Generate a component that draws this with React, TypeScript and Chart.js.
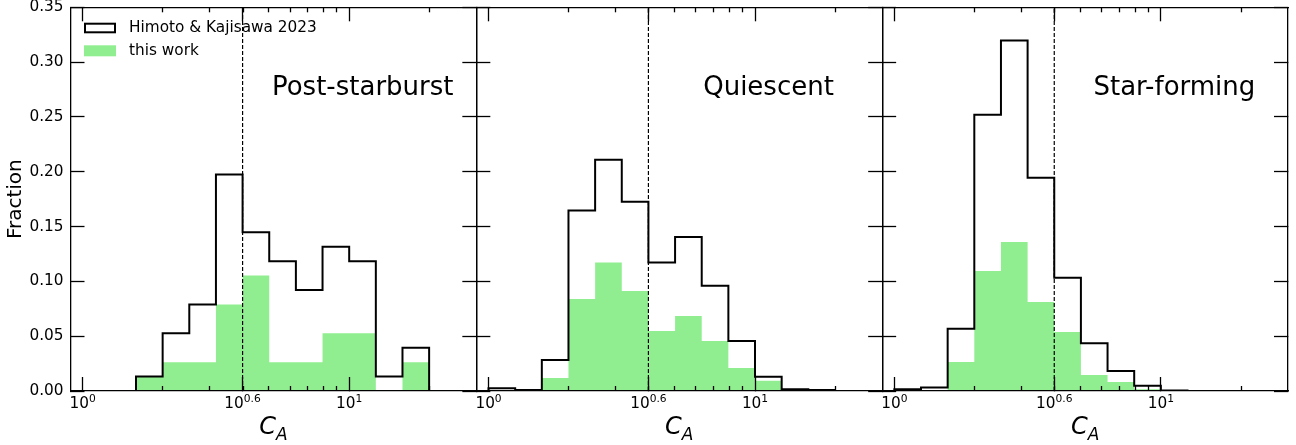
import React, { useEffect, useRef } from 'react';
import { Chart, registerables } from 'chart.js';

Chart.register(...registerables);

// ---------------- data ----------------
// histogram bin edges, in log10(C_A)
const binEdgeLog10 = [0, 0.1, 0.2, 0.3, 0.4, 0.5, 0.6, 0.7, 0.8, 0.9, 1.0, 1.1, 1.2, 1.3];

const panelNames = ['Post-starburst', 'Quiescent', 'Star-forming'];
const seriesLabels = ['Himoto & Kajisawa 2023', 'this work'];

// Himoto & Kajisawa 2023 (black step outline), fraction per bin
const himotoPostStarburst = [0, 0, 0.0132, 0.0526, 0.0789, 0.1974, 0.1447, 0.1184, 0.0921, 0.1316, 0.1184, 0.0132, 0.0395];
const himotoQuiescent = [0.0024, 0.001, 0.0283, 0.1647, 0.2109, 0.1726, 0.1173, 0.1404, 0.096, 0.0456, 0.0131, 0.0015, 0.001];
const himotoStarForming = [0.0015, 0.0033, 0.0568, 0.2519, 0.3197, 0.1945, 0.1033, 0.0435, 0.0182, 0.0049, 0.0005];

// this work (light green filled bars), fraction per bin
const thisWorkPostStarburst = [0, 0, 0.0132, 0.0263, 0.0263, 0.0789, 0.1053, 0.0263, 0.0263, 0.0526, 0.0526, 0, 0.0263];
const thisWorkQuiescent = [0, 0, 0.0119, 0.0839, 0.1173, 0.0912, 0.0547, 0.0684, 0.0456, 0.021, 0.0094, 0, 0];
const thisWorkStarForming = [0, 0, 0.0264, 0.1094, 0.1358, 0.0811, 0.0538, 0.0146, 0.0082, 0.0015, 0];

const himotoSeries = [himotoPostStarburst, himotoQuiescent, himotoStarForming];
const thisWorkSeries = [thisWorkPostStarburst, thisWorkQuiescent, thisWorkStarForming];

// axes
const xLimits = [0.9, 30];
const yLimits = [0, 0.35];
const yTickValues = [0, 0.05, 0.1, 0.15, 0.2, 0.25, 0.3, 0.35];
const xMajorTickExponents = [0, 0.6, 1];
const xMajorTickBase = '10';
const xMajorTickExponentLabels = ['0', '0.6', '1'];
const xMinorTickValues = [2, 3, 4, 5, 6, 7, 8, 9, 20];
const thresholdLog10 = 0.6;
const yAxisTitle = 'Fraction';
const xAxisTitleMain = 'C';
const xAxisTitleSub = 'A';

// ---------------- style / layout ----------------
const W = 1296;
const H = 445;
const PLOT_LEFT = 70.5;
const PLOT_RIGHT = 1288;
const PLOT_TOP = 7.3;
const PLOT_BOTTOM = 391;
const PANEL_W = (PLOT_RIGHT - PLOT_LEFT) / 3;
const FONT = '"DejaVu Sans", sans-serif';
const BLACK = '#000000';
const GREEN = '#90ee90';
const SPINE_W = 1.3;
const MAJOR_LEN = 14;
const MINOR_LEN = 5;

function stepOutline(edges: number[], values: number[]) {
  const pts: { x: number; y: number }[] = [{ x: edges[0], y: 0 }];
  values.forEach((v, i) => {
    pts.push({ x: edges[i], y: v });
    pts.push({ x: edges[i + 1], y: v });
  });
  pts.push({ x: edges[values.length], y: 0 });
  return pts;
}

function zeroFit(scale: any) {
  if (scale.isHorizontal()) scale.height = 0;
  else scale.width = 0;
  scale.paddingTop = 0;
  scale.paddingBottom = 0;
  scale.paddingLeft = 0;
  scale.paddingRight = 0;
}

function logAxis(position: string, values: number[], len: number, border: boolean) {
  return {
    type: 'logarithmic',
    axis: 'x',
    position,
    min: xLimits[0],
    max: xLimits[1],
    afterBuildTicks: (s: any) => {
      s.ticks = values.map((v) => ({ value: v }));
    },
    ticks: { display: false },
    grid: {
      display: true,
      drawOnChartArea: false,
      drawTicks: true,
      tickLength: -len,
      tickColor: BLACK,
      tickWidth: SPINE_W,
      z: 1,
    },
    border: { display: border, color: BLACK, width: SPINE_W, z: 1 },
    title: { display: false },
    afterFit: zeroFit,
  };
}

function linAxis(position: string, showLabels: boolean) {
  return {
    type: 'linear',
    axis: 'y',
    position,
    min: yLimits[0],
    max: yLimits[1],
    afterBuildTicks: (s: any) => {
      s.ticks = yTickValues.map((v) => ({ value: v }));
    },
    ticks: {
      display: showLabels,
      padding: MAJOR_LEN + 7,
      color: BLACK,
      font: { family: FONT, size: 15.3 },
      callback: (v: any) => Number(v).toFixed(2),
    },
    grid: {
      display: true,
      drawOnChartArea: false,
      drawTicks: true,
      tickLength: -MAJOR_LEN,
      tickColor: BLACK,
      tickWidth: SPINE_W,
      z: 1,
    },
    border: { display: true, color: BLACK, width: SPINE_W, z: 1 },
    title: { display: false },
    afterFit: (s: any) => {
      zeroFit(s);
      if (showLabels) s.width = PLOT_LEFT;
    },
  };
}

function buildConfig(panel: number): any {
  const left = PLOT_LEFT + panel * PANEL_W;
  const rightPad = W - (left + PANEL_W);
  const edges = binEdgeLog10.map((e) => 10 ** e);
  const threshold = 10 ** thresholdLog10;

  const textPlugin = {
    id: 'panelText' + panel,
    afterDraw(chart: any) {
      const { ctx, chartArea } = chart;
      const xs = chart.scales.x;
      ctx.save();
      ctx.fillStyle = BLACK;
      ctx.textBaseline = 'alphabetic';
      ctx.textAlign = 'left';

      // x tick labels 10^e
      xMajorTickExponents.forEach((e, i) => {
        const px = xs.getPixelForValue(10 ** e);
        const sup = xMajorTickExponentLabels[i];
        ctx.font = `15.3px ${FONT}`;
        const wb = ctx.measureText(xMajorTickBase).width;
        ctx.font = `10.7px ${FONT}`;
        const ws = ctx.measureText(sup).width;
        const x0 = px - (wb + ws) / 2;
        ctx.font = `15.3px ${FONT}`;
        ctx.fillText(xMajorTickBase, x0, chartArea.bottom + 17);
        ctx.font = `10.7px ${FONT}`;
        ctx.fillText(sup, x0 + wb, chartArea.bottom + 10.5);
      });

      // x axis title C_A
      const cx = (chartArea.left + chartArea.right) / 2;
      ctx.font = `italic 24px ${FONT}`;
      const wc = ctx.measureText(xAxisTitleMain).width;
      ctx.font = `italic 17px ${FONT}`;
      const wa = ctx.measureText(xAxisTitleSub).width;
      const tx = cx - (wc + wa) / 2;
      ctx.font = `italic 24px ${FONT}`;
      ctx.fillText(xAxisTitleMain, tx, chartArea.bottom + 43);
      ctx.font = `italic 17px ${FONT}`;
      ctx.fillText(xAxisTitleSub, tx + wc, chartArea.bottom + 49);

      // panel name
      ctx.font = `26px ${FONT}`;
      ctx.textAlign = 'center';
      ctx.fillText(
        panelNames[panel],
        chartArea.left + 0.72 * (chartArea.right - chartArea.left),
        chartArea.bottom - 0.771 * (chartArea.bottom - chartArea.top)
      );

      if (panel === 0) {
        // y axis title
        ctx.save();
        ctx.translate(21, (chartArea.top + chartArea.bottom) / 2);
        ctx.rotate(-Math.PI / 2);
        ctx.font = `20px ${FONT}`;
        ctx.textAlign = 'center';
        ctx.fillText(yAxisTitle, 0, 0);
        ctx.restore();

        // legend
        const lx = chartArea.left + 13.5;
        const ly = chartArea.top;
        ctx.lineWidth = 2;
        ctx.strokeStyle = BLACK;
        ctx.strokeRect(lx + 1, ly + 16.4, 30, 8.6);
        ctx.fillStyle = GREEN;
        ctx.fillRect(lx, ly + 38, 32, 11);
        ctx.fillStyle = BLACK;
        ctx.font = `15.3px ${FONT}`;
        ctx.textAlign = 'left';
        ctx.textBaseline = 'middle';
        const ds = chart.data.datasets;
        ctx.fillText(ds[0].label, lx + 45, ly + 21);
        ctx.fillText(ds[1].label, lx + 45, ly + 43.5);
      }
      ctx.restore();
    },
  };

  return {
    type: 'line',
    data: {
      datasets: [
        {
          label: seriesLabels[0],
          data: stepOutline(edges, himotoSeries[panel]),
          borderColor: BLACK,
          borderWidth: 2,
          borderJoinStyle: 'miter',
          borderCapStyle: 'butt',
          pointRadius: 0,
          fill: false,
          tension: 0,
          clip: 0,
          order: 1,
        },
        {
          label: seriesLabels[1],
          data: stepOutline(edges, thisWorkSeries[panel]),
          borderColor: 'rgba(0,0,0,0)',
          borderWidth: 0,
          backgroundColor: GREEN,
          fill: 'origin',
          pointRadius: 0,
          tension: 0,
          clip: 0,
          order: 2,
        },
        {
          label: 'C_A = 10^0.6',
          data: [
            { x: threshold, y: yLimits[0] },
            { x: threshold, y: yLimits[1] },
          ],
          borderColor: BLACK,
          borderWidth: 1.2,
          borderDash: [4, 2],
          pointRadius: 0,
          fill: false,
          clip: 0,
          order: 0,
        },
      ],
    },
    options: {
      responsive: false,
      maintainAspectRatio: false,
      animation: false,
      devicePixelRatio: 1,
      events: [],
      layout: {
        autoPadding: false,
        padding: {
          left: panel === 0 ? 0 : left,
          right: rightPad,
          top: PLOT_TOP,
          bottom: H - PLOT_BOTTOM,
        },
      },
      plugins: {
        legend: { display: false },
        tooltip: { enabled: false },
        title: { display: false },
      },
      scales: {
        x: logAxis('bottom', xMajorTickExponents.map((e) => 10 ** e), MAJOR_LEN, true),
        xMinor: logAxis('bottom', xMinorTickValues, MINOR_LEN, false),
        xTop: logAxis('top', xMajorTickExponents.map((e) => 10 ** e), MAJOR_LEN, true),
        xTopMinor: logAxis('top', xMinorTickValues, MINOR_LEN, false),
        y: linAxis('left', panel === 0),
        yRight: linAxis('right', false),
      },
    },
    plugins: [textPlugin],
  };
}

export default function App() {
  const r0 = useRef<HTMLCanvasElement | null>(null);
  const r1 = useRef<HTMLCanvasElement | null>(null);
  const r2 = useRef<HTMLCanvasElement | null>(null);
  const refs = [r0, r1, r2];

  useEffect(() => {
    const charts = refs.map((r, i) => new Chart(r.current as HTMLCanvasElement, buildConfig(i)));
    return () => charts.forEach((c) => c.destroy());
  }, []);

  return (
    <div
      style={{
        position: 'absolute',
        left: 0,
        top: 0,
        width: W,
        height: H,
        background: '#ffffff',
        overflow: 'hidden',
      }}
    >
      {refs.map((r, i) => (
        <canvas
          key={i}
          ref={r}
          width={W}
          height={H}
          style={{ position: 'absolute', left: 0, top: 0, width: W, height: H }}
        />
      ))}
    </div>
  );
}
